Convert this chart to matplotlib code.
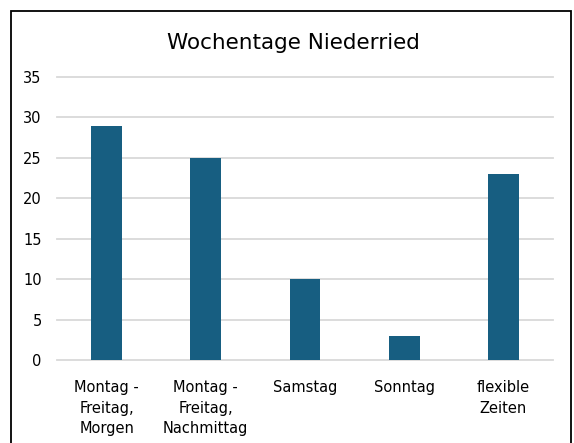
import matplotlib
matplotlib.use("Agg")
import matplotlib.pyplot as plt
from matplotlib.patches import Rectangle

plt.rcParams['font.family'] = ['DejaVu Sans']

categories = ["Montag -\nFreitag,\nMorgen", "Montag -\nFreitag,\nNachmittag", "Samstag", "Sonntag", "flexible\nZeiten"]
values = [29, 25, 10, 3, 23]
yticks = [0, 5, 10, 15, 20, 25, 30, 35]
title = "Wochentage Niederried"

W, H = 574, 443
fig = plt.figure(figsize=(W/100, H/100), dpi=100)

ax = fig.add_axes([57/W, 1-360/H, (553-57)/W, (360-77)/H])
x = list(range(len(categories)))
ax.bar(x, values, width=0.31, color="#175E81", zorder=3)
ax.set_xlim(-0.5, len(categories)-0.5)
ax.set_ylim(0, 35)
ax.set_yticks(yticks)
ax.set_xticks(x)
ax.set_xticklabels(categories, fontsize=10.5, color="#000000", linespacing=1.45)
ax.tick_params(axis='y', length=0, pad=11, labelsize=10.5)
ax.tick_params(axis='x', length=0, pad=14.5)
for s in ax.spines.values():
    s.set_visible(False)
ax.grid(axis='y', color="#d9d9d9", linewidth=1.3, zorder=0)
ax.set_axisbelow(True)
for gl in ax.get_ygridlines():
    gl.set_clip_on(False)

fig.text(0.5*(11+571)/W + 2/W, 1-43/H, title, ha='center', va='center', fontsize=15.5, color="#000000")

rect = Rectangle((11/W, -0.1), (571-11)/W, 1-11/H+0.1, transform=fig.transFigure,
                 fill=False, edgecolor="#000000", linewidth=1.3)
fig.patches.append(rect)

fig.savefig("out.png", dpi=100)
